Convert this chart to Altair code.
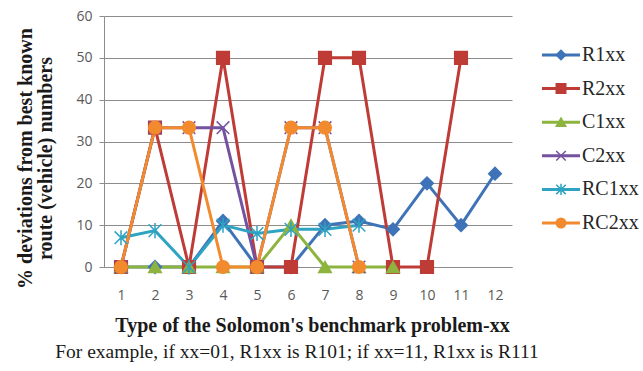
import altair as alt
import pandas as pd

# Problem index within each Solomon benchmark class (xx = 01 .. 12)
problems = list(range(1, 13))
series_names = ["R1xx", "R2xx", "C1xx", "C2xx", "RC1xx", "RC2xx"]

# % deviation from best-known route (vehicle) numbers, one list per class
r1 = [0, 0, 0, 11, 0, 0, 10, 11, 9, 20, 10, 22.3]
r2 = [0, 33.3, 0, 50, 0, 0, 50, 50, 0, 0, 50]
c1 = [0, 0, 0, 0, 0, 10, 0, 0, 0]
c2 = [0, 33.3, 33.3, 33.3, 0, 33.3, 33.3, 0]
rc1 = [7, 8.7, 0, 10, 8, 9, 9, 10]
rc2 = [0, 33.3, 33.3, 0, 0, 33.3, 33.3, 0]

series_values = [r1, r2, c1, c2, rc1, rc2]
colors = ["#3F73B8", "#BE3B36", "#8DB43E", "#7452A0", "#2EA3C2", "#F28A2E"]

# thin cross and asterisk markers as custom symbol paths
x_path = "M-1,-1L1,1M-1,1L1,-1"
star_path = "M-1,-1L1,1M-1,1L1,-1M0,-1.2L0,1.2"
shapes = ["diamond", "square", "triangle-up", x_path, star_path, "circle"]

rows = []
for name, vals in zip(series_names, series_values):
    for p, v in zip(problems, vals):
        rows.append({"series": name, "problem": p, "value": v})
df = pd.DataFrame(rows)
legend_df = pd.DataFrame({"series": series_names})

W, H = 408, 251
SERIF = "Liberation Serif"

color_scale = alt.Scale(domain=series_names, range=colors)
shape_scale = alt.Scale(domain=series_names, range=shapes)

x_enc = alt.X(
    "problem:O",
    scale=alt.Scale(type="point", padding=0.5),
    axis=alt.Axis(
        title="Type of the Solomon's benchmark problem-xx",
        titleFont=SERIF,
        titleFontSize=20,
        titleFontWeight="bold",
        titleColor="#1a1a1a",
        titleX=208,
        titleY=58,
        titleBaseline="middle",
        labelAngle=0,
        labelFont="Open Sans",
        labelFontSize=14,
        labelColor="#595959",
        labelPadding=21,
        ticks=False,
        domainColor="#8c8c8c",
        grid=False,
    ),
)
y_enc = alt.Y(
    "value:Q",
    scale=alt.Scale(domain=[0, 60], nice=False),
    axis=alt.Axis(
        values=[0, 10, 20, 30, 40, 50, 60],
        title=["% deviations from best known", "route (vehicle) numbers"],
        titleFont=SERIF,
        titleFontSize=20,
        titleFontWeight="bold",
        titleColor="#1a1a1a",
        titleAngle=270,
        titleX=-79,
        titleY=142,
        titleAlign="center",
        titleBaseline="middle",
        titleLineHeight=20,
        labelFont="Open Sans",
        labelFontSize=14,
        labelColor="#595959",
        labelPadding=7,
        tickSize=5,
        tickColor="#8c8c8c",
        domainColor="#8c8c8c",
        gridColor="#8c8c8c",
    ),
)

lines = alt.Chart(df).mark_line(strokeWidth=3).encode(
    x=x_enc,
    y=y_enc,
    color=alt.Color("series:N", scale=color_scale, legend=None),
    order="problem:Q",
)
points = alt.Chart(df).mark_point(filled=True, size=160, strokeWidth=1.5, opacity=1).encode(
    x=x_enc,
    y=y_enc,
    color=alt.Color("series:N", scale=color_scale, legend=None),
    stroke=alt.Stroke("series:N", scale=color_scale, legend=None),
    shape=alt.Shape("series:N", scale=shape_scale, legend=None),
)

# note line under the x-axis title
note = alt.Chart(pd.DataFrame({"t": ["For example, if xx=01, R1xx is R101; if xx=11, R1xx is R111"]})).mark_text(
    font=SERIF, fontSize=19.5, color="#1a1a1a", align="center", baseline="middle"
).encode(text="t:N", x=alt.value(193), y=alt.value(336))

main = alt.layer(lines, points, note)

# legend: line sample with marker, then the series name
leg_y = alt.Y(
    "series:N",
    sort=series_names,
    scale=alt.Scale(type="point", domain=series_names, range=[39, 207], padding=0),
    axis=None,
)
leg_rule = alt.Chart(legend_df).mark_rule(strokeWidth=3).encode(
    x=alt.value(438), x2=alt.value(476), y=leg_y,
    color=alt.Color("series:N", scale=color_scale, legend=None),
)
leg_pt = alt.Chart(legend_df).mark_point(filled=True, size=90, strokeWidth=1.5, opacity=1).encode(
    x=alt.value(457), y=leg_y,
    color=alt.Color("series:N", scale=color_scale, legend=None),
    stroke=alt.Stroke("series:N", scale=color_scale, legend=None),
    shape=alt.Shape("series:N", scale=shape_scale, legend=None),
)
leg_text = alt.Chart(legend_df).mark_text(
    font=SERIF, fontSize=20, color="#262626", align="left", baseline="middle"
).encode(x=alt.value(478), y=leg_y, text="series:N")

legend = alt.layer(leg_rule, leg_pt, leg_text)

chart = (
    alt.layer(main, legend)
    .resolve_scale(y="independent")
    .properties(
        width=W,
        height=H,
        autosize=alt.AutoSizeParams(type="none"),
        padding={"left": 104, "top": 16, "right": 131, "bottom": 104},
        background="white",
    )
    .configure_view(stroke=None)
)

chart.save("out.html", embed_options={"renderer": "svg", "actions": False})
